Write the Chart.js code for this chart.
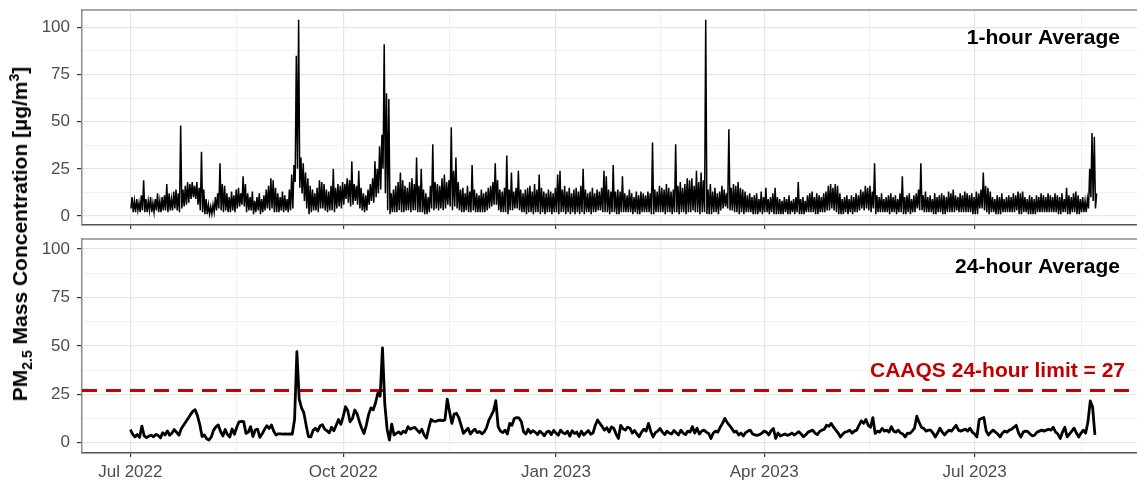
<!DOCTYPE html>
<html>
<head>
<meta charset="utf-8">
<script src="https://cdn.jsdelivr.net/npm/chart.js@4/dist/chart.umd.min.js"></script>
<style>
  body { margin: 0; background: #fff; width: 1137px; height: 485px; position: relative; overflow: hidden; font-family: "Liberation Sans", Arial, sans-serif; }
  canvas { position: absolute; left: 0; }
  #top { top: 0; }
  #bottom { top: 232px; }
  #ytitle { position: absolute; left: 20px; top: 234px; transform: translate(-50%, -50%) rotate(-90deg); font-weight: bold; font-size: 21px; white-space: nowrap; color: #000; }
  #ytitle sub, #ytitle sup { font-size: 14px; line-height: 0; }
</style>
</head>
<body>
<canvas id="top" width="1137" height="232"></canvas>
<canvas id="bottom" width="1137" height="253"></canvas>
<div id="ytitle">PM<sub>2.5</sub> Mass Concentration [µg/m<sup>3</sup>]</div>
<script>
// x axis in days since 1 Jul 2022
const tickDays = [0, 92, 184, 274, 365];
const tickLabels = ['Jul 2022', 'Oct 2022', 'Jan 2023', 'Apr 2023', 'Jul 2023'];
const yTickValues = [0, 25, 50, 75, 100];
const caaqsLimit = 27;

// 24-hour average, one value per day from 1 Jul 2022
const daily24h = [
  6.8,4.5,3.0,4.2,2.8,8.6,3.5,2.6,3.4,3.9,
  3.1,4.3,3.8,2.5,5.2,4.0,6.1,3.8,5.0,6.8,
  5.4,3.9,7.2,9.0,10.8,12.6,14.5,16.2,17.1,14.0,
  9.5,3.2,4.0,2.1,1.4,3.0,6.5,8.2,9.2,5.8,
  3.5,6.8,4.2,3.0,7.1,4.4,8.0,10.8,11.0,10.9,
  4.8,5.5,8.3,3.2,6.6,7.0,2.8,4.6,6.9,8.8,
  7.4,9.2,5.9,4.0,4.6,4.6,4.5,4.6,4.5,4.6,
  4.5,12.0,47.0,22.5,18.0,15.5,9.0,3.2,3.0,6.3,
  7.5,6.0,8.6,9.3,7.0,6.2,5.1,8.0,6.2,9.0,
  12.0,9.5,13.5,18.6,16.5,10.8,12.5,16.9,15.0,11.0,
  7.5,4.8,9.0,14.5,18.0,17.0,20.5,25.6,24.0,49.0,
  20.0,7.0,1.4,9.6,4.0,4.8,5.6,4.5,6.0,5.2,
  8.3,7.0,7.6,7.9,6.5,5.2,7.0,4.0,2.4,7.5,
  12.0,11.2,11.0,11.5,11.7,11.4,11.8,22.5,16.0,10.0,
  14.8,15.2,13.0,9.0,4.8,6.2,7.5,4.5,6.0,7.0,
  5.2,5.8,4.6,5.6,7.8,11.7,14.0,16.5,21.7,8.3,
  6.0,5.2,6.5,4.5,10.0,9.0,12.5,13.0,12.8,11.0,
  5.7,4.5,7.0,5.0,6.2,5.5,4.2,6.0,5.0,3.6,
  5.5,6.0,4.2,6.4,5.0,3.8,6.5,5.2,4.6,5.9,
  3.4,6.2,4.8,5.5,3.2,6.0,4.0,5.1,6.3,4.4,
  5.0,9.0,11.7,10.0,8.3,6.5,7.8,5.5,8.2,7.4,
  4.5,2.2,9.0,7.2,6.5,8.0,7.5,5.0,6.3,4.5,
  3.1,5.5,7.0,6.0,10.0,5.8,3.0,5.2,6.0,7.4,
  5.5,4.2,6.0,5.0,4.5,6.3,5.2,4.0,6.5,5.0,
  4.2,6.0,5.5,8.3,5.0,7.5,4.5,6.0,6.5,5.5,
  4.8,2.2,5.0,6.0,5.5,8.0,10.0,12.6,10.5,9.0,
  7.4,5.5,6.0,4.0,5.0,3.5,5.2,6.0,6.5,4.5,
  4.0,3.8,4.2,5.0,6.0,5.5,4.0,6.2,7.4,2.2,
  5.0,3.5,4.0,4.5,3.8,4.2,5.0,4.0,4.8,5.7,
  4.5,3.1,4.0,5.5,6.0,6.5,5.0,4.2,5.8,6.5,
  7.0,9.0,8.5,10.0,8.0,6.5,5.0,3.0,4.5,5.5,
  5.8,6.5,5.0,6.0,6.5,9.0,11.3,10.0,12.0,9.0,
  8.0,13.0,4.8,6.0,5.5,7.4,6.0,6.5,5.5,8.3,
  6.0,5.5,6.5,5.0,4.5,3.0,5.0,4.8,6.0,7.5,
  13.7,10.5,8.0,7.4,6.0,6.5,6.5,5.0,3.0,5.0,
  7.5,5.5,4.0,5.5,6.5,6.0,7.5,9.0,6.5,6.0,
  6.5,7.0,6.0,7.5,5.5,4.5,3.0,12.0,12.5,13.0,
  6.0,4.0,5.5,6.5,5.5,4.5,3.0,5.0,6.0,5.5,
  6.5,7.0,8.0,9.0,5.0,3.0,5.5,6.0,5.7,4.5,
  3.5,4.0,5.5,6.0,6.5,6.0,6.5,7.0,6.5,8.0,
  5.5,4.5,2.2,5.5,8.0,3.0,4.5,6.0,7.5,5.0,
  3.0,5.0,6.5,5.0,10.8,21.6,18.5,4.0
];

// 1-hour data, daily low and high hourly readings
const hourlyLow = [
  4,2,2,3,2,3,2,2,3,2,
  2,3,2,2,3,3,2,3,3,4,
  3,2,4,5,6,7,9,10,9,6,
  3,2,1,1,1,1,2,3,4,3,
  2,3,2,2,3,2,4,5,6,5,
  2,3,3,1,2,3,1,2,3,4,
  3,4,2,2,2,3,2,3,2,3,
  4,18,25,15,12,8,4,1,2,3,
  3,2,4,4,3,2,3,3,2,4,
  5,4,6,9,7,5,6,8,6,4,
  3,2,3,6,8,7,10,12,14,25,
  12,3,1,2,2,2,3,2,2,3,
  3,2,3,3,2,2,2,1,1,2,
  4,3,4,3,4,3,4,6,5,3,
  5,4,3,2,2,3,2,2,3,2,
  2,2,2,2,3,4,5,6,6,3,
  2,2,2,1,3,3,4,4,3,2,
  2,1,2,2,1,2,2,1,2,1,
  2,2,1,2,2,1,2,2,1,2,
  1,2,1,2,1,2,1,2,2,1,
  2,2,3,3,2,2,2,1,2,2,
  1,1,2,2,2,2,2,1,2,1,
  1,2,2,2,2,1,1,2,2,2,
  2,1,2,2,1,2,2,1,2,2,
  1,2,2,3,2,2,1,2,2,1,
  1,1,2,2,1,3,4,5,4,3,
  3,2,2,1,2,1,2,2,2,1,
  1,1,2,1,2,2,1,2,1,1,
  1,1,1,2,1,1,2,1,2,1,
  1,1,2,2,2,2,1,1,2,2,
  2,3,3,4,3,2,1,1,1,2,
  1,2,1,2,2,3,4,3,4,3,
  2,4,1,2,2,2,2,2,1,2,
  2,1,2,2,1,1,2,1,2,2,
  4,3,3,2,2,2,2,1,1,2,
  2,1,1,2,2,2,2,3,2,2,
  2,2,2,2,1,1,1,4,4,3,
  2,1,2,2,1,1,1,2,2,2,
  2,2,2,3,1,1,2,2,1,1,
  1,1,2,2,2,2,2,2,2,2,
  2,1,1,2,2,1,1,2,2,1,
  1,2,2,2,4,10,8,4
];
const hourlyHigh = [
  10,8,9,7,11,19,9,8,10,7,
  9,12,8,10,11,17,12,9,13,14,
  12,48,14,16,18,17,18,16,18,15,
  34,14,9,6,5,6,10,12,28,17,
  16,12,10,13,11,14,15,12,21,17,
  12,10,13,8,10,12,9,11,14,16,
  20,19,15,12,10,13,11,9,14,22,
  27,85,104,31,28,23,20,16,14,12,
  15,19,18,17,14,13,16,25,15,17,
  16,18,17,20,19,29,17,16,24,15,
  12,11,14,17,20,29,25,37,43,91,
  65,62,12,14,16,18,23,19,16,15,
  18,20,17,31,16,25,14,12,10,16,
  38,18,17,16,20,22,18,19,47,24,
  31,18,14,15,12,16,13,27,14,12,
  11,14,12,13,15,16,18,28,19,14,
  13,15,32,14,23,13,15,24,14,12,
  14,15,16,13,17,14,22,15,13,12,
  14,13,12,15,22,24,14,16,13,15,
  12,14,15,13,16,25,14,12,13,15,
  12,14,13,15,24,21,14,13,27,13,
  14,13,21,12,11,14,12,10,13,11,
  13,12,11,13,12,39,14,13,16,15,
  14,17,15,13,14,38,16,18,15,17,
  20,19,20,16,24,18,23,19,104,14,
  17,13,15,12,13,16,14,12,46,15,
  17,16,18,15,14,13,11,12,10,11,
  12,9,13,10,15,9,10,12,15,10,
  9,8,10,9,11,8,9,10,18,9,
  10,8,11,12,13,10,12,11,10,12,
  13,16,17,15,17,16,12,9,10,11,
  9,11,10,12,11,14,13,16,15,16,
  13,28,11,10,12,9,10,11,12,10,
  11,9,12,21,10,11,12,9,11,12,
  14,28,11,13,10,11,9,12,10,11,
  12,11,10,13,12,14,11,10,12,11,
  13,12,11,12,10,13,12,14,23,16,
  15,13,10,9,11,10,12,9,10,11,
  10,12,11,13,12,13,10,9,11,10,
  9,11,10,12,11,10,12,11,10,12,
  11,10,12,9,15,11,10,12,13,11,
  9,10,8,9,25,44,42,12
];

const xMin = -20.9, xMax = 435.2;
const FONT = '"Liberation Sans", Arial, sans-serif';
Chart.defaults.font.family = FONT;

const minorDays = tickDays.map((d, i) => i < tickDays.length - 1 ? (d + tickDays[i + 1]) / 2 : d + 46);
const xGrid = [...tickDays, ...minorDays].sort((a, b) => a - b);
const yGrid = [0, 12.5, 25, 37.5, 50, 62.5, 75, 87.5, 100];

const hourlyPoints = [];
hourlyLow.forEach((lo, i) => {
  hourlyPoints.push({ x: i + 0.25, y: lo });
  hourlyPoints.push({ x: i + 0.75, y: hourlyHigh[i] });
});
const dailyPoints = daily24h.map((v, i) => ({ x: i, y: v }));

function xScale(showLabels) {
  return {
    type: 'linear', min: xMin, max: xMax,
    afterBuildTicks: s => { s.ticks = xGrid.map(v => ({ value: v })); },
    afterFit: s => { s.height = showLabels ? 32 : 7; s.paddingLeft = 0; s.paddingRight = 0; },
    ticks: {
      display: showLabels, autoSkip: false, maxRotation: 0, padding: 5,
      color: '#4d4d4d', font: { size: 17 },
      callback: v => { const i = tickDays.indexOf(v); return i >= 0 ? tickLabels[i] : ''; }
    },
    grid: {
      color: c => tickDays.includes(c.tick && c.tick.value) ? '#e6e6e6' : '#f0f0f0',
      lineWidth: c => tickDays.includes(c.tick && c.tick.value) ? 1.2 : 1,
      tickLength: 4,
      tickColor: c => tickDays.includes(c.tick && c.tick.value) ? '#333' : 'rgba(0,0,0,0)'
    },
    border: { display: true, color: '#555', width: 1.5 }
  };
}

function yScale(min, max) {
  return {
    min, max,
    afterBuildTicks: s => { s.ticks = yGrid.map(v => ({ value: v })); },
    afterFit: s => { s.width = 82; s.paddingTop = 0; s.paddingBottom = 0; },
    ticks: {
      padding: 7, color: '#4d4d4d', font: { size: 17 },
      callback: v => yTickValues.includes(v) ? String(v) : ''
    },
    grid: {
      color: c => yTickValues.includes(c.tick && c.tick.value) ? '#e6e6e6' : '#f0f0f0',
      lineWidth: c => yTickValues.includes(c.tick && c.tick.value) ? 1.2 : 1,
      tickLength: 5,
      tickColor: c => yTickValues.includes(c.tick && c.tick.value) ? '#333' : 'rgba(0,0,0,0)'
    },
    border: { display: true, color: '#8c8c8c', width: 1.5 }
  };
}

// top border of each panel and the text labels
const panelText = {
  id: 'panelText',
  afterDraw(chart, args, opts) {
    const { ctx, chartArea: a } = chart;
    ctx.save();
    ctx.strokeStyle = '#8c8c8c';
    ctx.lineWidth = 1.5;
    ctx.beginPath();
    ctx.moveTo(a.left, a.top);
    ctx.lineTo(a.right, a.top);
    ctx.stroke();
    ctx.textAlign = 'right';
    ctx.textBaseline = 'alphabetic';
    (opts.items || []).forEach(t => {
      ctx.font = 'bold ' + t.size + 'px ' + FONT;
      ctx.fillStyle = t.color;
      ctx.fillText(t.text, t.x, t.y);
    });
    ctx.restore();
  }
};

new Chart(document.getElementById('top'), {
  type: 'line',
  data: {
    datasets: [{
      data: hourlyPoints, borderColor: '#000', borderWidth: 1.5,
      pointRadius: 0, tension: 0, fill: false
    }]
  },
  options: {
    responsive: false, animation: false, events: [],
    layout: { padding: { top: 10, left: 0, right: 0, bottom: 0 } },
    plugins: {
      legend: { display: false }, tooltip: { enabled: false },
      panelText: { items: [{ text: '1-hour Average', x: 1120, y: 44, size: 21, color: '#000' }] }
    },
    scales: { x: xScale(false), y: yScale(-4.77, 109.2) }
  },
  plugins: [panelText]
});

new Chart(document.getElementById('bottom'), {
  type: 'line',
  data: {
    datasets: [{
      data: dailyPoints, borderColor: '#000', borderWidth: 2.8,
      pointRadius: 0, tension: 0, fill: false, borderJoinStyle: 'round'
    }, {
      data: [{ x: xMin, y: caaqsLimit }, { x: xMax, y: caaqsLimit }],
      borderColor: '#c80000', borderWidth: 3, borderDash: [15, 9],
      pointRadius: 0, fill: false
    }]
  },
  options: {
    responsive: false, animation: false, events: [],
    layout: { padding: { top: 7, left: 0, right: 0, bottom: 0 } },
    plugins: {
      legend: { display: false }, tooltip: { enabled: false },
      panelText: { items: [
        { text: '24-hour Average', x: 1120, y: 41, size: 21, color: '#000' },
        { text: 'CAAQS 24-hour limit = 27', x: 1125, y: 145, size: 21, color: '#c00000' }
      ] }
    },
    scales: { x: xScale(true), y: yScale(-5.3, 105.2) }
  },
  plugins: [panelText]
});
</script>
</body>
</html>
